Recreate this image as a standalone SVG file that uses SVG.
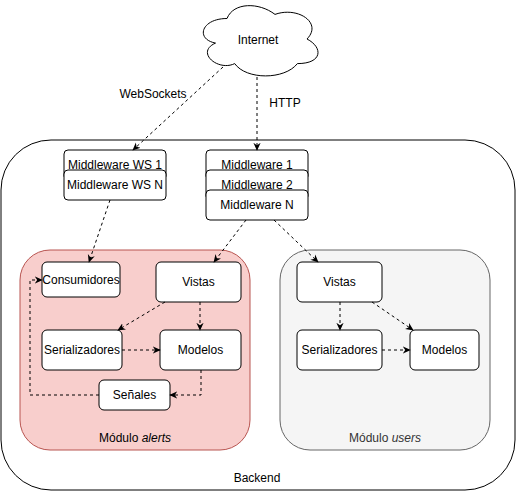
<svg xmlns="http://www.w3.org/2000/svg" width="516" height="492" viewBox="0 0 516 492">
<style>
text{font-family:"Liberation Sans",Arial,Helvetica,sans-serif;font-size:12px;text-anchor:middle;fill:#000}
.n{fill:#fff;stroke:#000;stroke-width:1}
.c{fill:none;stroke:#000;stroke-width:1;stroke-dasharray:3 3}
</style>
<defs>
<marker id="a" viewBox="0 0 10 10" refX="9" refY="5" markerWidth="8" markerHeight="8" markerUnits="userSpaceOnUse" orient="auto">
<path d="M0,0.5 L10,5 L0,9.5 L3,5 Z" fill="#000"/>
</marker>
</defs>
<g id="backend">
<rect x="1" y="140" width="514" height="350" rx="50" ry="50" fill="#fff" stroke="#000"/>
<text x="257" y="482">Backend</text>
</g>
<g id="modulo-alerts">
<rect x="20" y="250" width="230" height="200" rx="30" ry="30" fill="#f8cecc" stroke="#b85450"/>
<text x="135" y="442">Módulo <tspan font-style="italic">alerts</tspan></text>
</g>
<g id="modulo-users">
<rect x="280" y="250" width="210" height="200" rx="30" ry="30" fill="#f5f5f5" stroke="#666"/>
<text x="385" y="442" style="fill:#333">Módulo <tspan font-style="italic">users</tspan></text>
</g>
<g id="internet">
<path d="M227,18.5 C201.4,18.5 195,39 215.5,43.1 C195,52.1 218,71.8 234.7,63.6 C246.2,80 284.6,80 297.4,63.6 C323,63.6 323,47.2 307,39 C323,22.6 297.4,6.2 275,14.4 C259,2.1 233.4,2.1 227,18.5 Z" class="n"/>
<text x="258" y="44">Internet</text>
</g>
<g id="mw-ws-1"><rect x="64" y="150" width="102" height="30" rx="4" class="n"/><text x="115" y="169">Middleware WS 1</text></g>
<g id="mw-ws-n"><rect x="64" y="170" width="102" height="30" rx="4" class="n"/><text x="115" y="189">Middleware WS N</text></g>
<g id="mw-1"><rect x="206" y="150" width="102" height="30" rx="4" class="n"/><text x="257" y="169">Middleware 1</text></g>
<g id="mw-2"><rect x="206" y="170" width="102" height="30" rx="4" class="n"/><text x="257" y="189">Middleware 2</text></g>
<g id="mw-n"><rect x="206" y="190" width="102" height="30" rx="4" class="n"/><text x="257" y="209">Middleware N</text></g>
<g id="a-consumidores"><rect x="42" y="262" width="78" height="35" rx="5" class="n"/><text x="81" y="284">Consumidores</text></g>
<g id="a-vistas"><rect x="156" y="262" width="85" height="40" rx="5" class="n"/><text x="198.5" y="286">Vistas</text></g>
<g id="a-serializadores"><rect x="42" y="330" width="80" height="40" rx="5" class="n"/><text x="82" y="354">Serializadores</text></g>
<g id="a-modelos"><rect x="160" y="330" width="81" height="40" rx="5" class="n"/><text x="200.5" y="354">Modelos</text></g>
<g id="a-senales"><rect x="99" y="380" width="71" height="30" rx="5" class="n"/><text x="134.5" y="399">Señales</text></g>
<g id="u-vistas"><rect x="297" y="262" width="85" height="40" rx="5" class="n"/><text x="339.5" y="286">Vistas</text></g>
<g id="u-serializadores"><rect x="297" y="330" width="85" height="40" rx="5" class="n"/><text x="339.5" y="354">Serializadores</text></g>
<g id="u-modelos"><rect x="410" y="330" width="69" height="40" rx="5" class="n"/><text x="444.5" y="354">Modelos</text></g>
<g id="connectors">
<path class="c" d="M223,67 L133,150" marker-end="url(#a)"/>
<text x="153" y="98">WebSockets</text>
<path class="c" d="M257,77 L257,150" marker-end="url(#a)"/>
<text x="285" y="107">HTTP</text>
<path class="c" d="M110,200 L89,262" marker-end="url(#a)"/>
<path class="c" d="M246,220 L214,262" marker-end="url(#a)"/>
<path class="c" d="M274,220 L318,262" marker-end="url(#a)"/>
<path class="c" d="M165,302 L118,330" marker-end="url(#a)"/>
<path class="c" d="M200,302 L200,330" marker-end="url(#a)"/>
<path class="c" d="M122,350 L160,350" marker-end="url(#a)"/>
<path class="c" d="M201,370 L201,395 L170,395" marker-end="url(#a)"/>
<path class="c" d="M99,395 L30,395 L30,280 L42,280" marker-end="url(#a)"/>
<path class="c" d="M340,302 L340,330" marker-end="url(#a)"/>
<path class="c" d="M372,302 L413,330" marker-end="url(#a)"/>
<path class="c" d="M382,350 L410,350" marker-end="url(#a)"/>
</g>
</svg>
